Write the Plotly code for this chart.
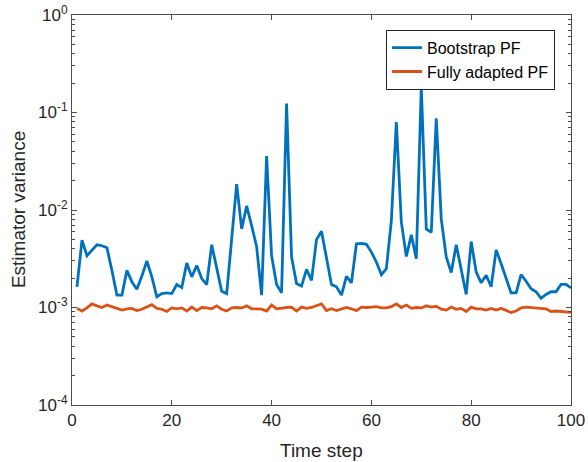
import plotly.graph_objects as go

time_steps = list(range(1, 101))

bootstrap_pf = [
    1.63e-3, 4.9e-3, 3.4e-3, 3.9e-3, 4.4e-3, 4.3e-3, 4.1e-3, 2.4e-3, 1.34e-3, 1.34e-3,
    2.4e-3, 1.83e-3, 1.54e-3, 2.1e-3, 3.0e-3, 2.06e-3, 1.29e-3, 1.39e-3, 1.41e-3, 1.39e-3,
    1.72e-3, 1.6e-3, 2.86e-3, 2.06e-3, 2.7e-3, 1.98e-3, 1.72e-3, 4.4e-3, 2.5e-3, 1.47e-3,
    1.39e-3, 5.0e-3, 1.84e-2, 6.4e-3, 1.1e-2, 6.9e-3, 4.2e-3, 1.34e-3, 3.58e-2, 3.4e-3,
    1.72e-3, 1.42e-3, 1.236e-1, 3.3e-3, 1.76e-3, 1.66e-3, 2.46e-3, 1.9e-3, 4.97e-3, 6.06e-3,
    3.16e-3, 1.72e-3, 1.63e-3, 1.34e-3, 2.09e-3, 1.79e-3, 4.5e-3, 4.55e-3, 4.45e-3, 3.7e-3,
    2.93e-3, 2.17e-3, 2.5e-3, 7.8e-3, 7.96e-2, 7.5e-3, 3.34e-3, 5.56e-3, 3.16e-3, 1.83e-1,
    6.4e-3, 5.9e-3, 8.7e-2, 8.1e-3, 3.3e-3, 2.28e-3, 4.4e-3, 2.4e-3, 1.36e-3, 4.75e-3,
    2.31e-3, 1.79e-3, 2.14e-3, 1.63e-3, 3.9e-3, 2.81e-3, 1.98e-3, 1.41e-3, 1.41e-3, 2.17e-3,
    1.86e-3, 1.56e-3, 1.45e-3, 1.24e-3, 1.36e-3, 1.45e-3, 1.45e-3, 1.73e-3, 1.73e-3, 1.59e-3,
]

fully_adapted_pf = [
    0.98e-3, 0.92e-3, 0.99e-3, 1.09e-3, 1.04e-3, 1.0e-3, 1.06e-3, 1.01e-3, 0.98e-3, 0.94e-3,
    0.97e-3, 0.98e-3, 0.93e-3, 0.96e-3, 1.01e-3, 1.07e-3, 0.98e-3, 0.96e-3, 0.91e-3, 0.99e-3,
    0.97e-3, 0.99e-3, 0.92e-3, 1.01e-3, 0.93e-3, 1.0e-3, 0.99e-3, 0.97e-3, 1.04e-3, 0.96e-3,
    0.92e-3, 0.99e-3, 1.0e-3, 0.99e-3, 1.04e-3, 0.97e-3, 0.97e-3, 0.96e-3, 0.92e-3, 1.06e-3,
    0.97e-3, 0.99e-3, 1.0e-3, 1.01e-3, 0.92e-3, 1.01e-3, 0.98e-3, 1.0e-3, 1.05e-3, 1.09e-3,
    0.93e-3, 0.97e-3, 0.93e-3, 0.96e-3, 1.0e-3, 0.97e-3, 0.93e-3, 1.01e-3, 1.0e-3, 1.01e-3,
    1.02e-3, 0.99e-3, 0.99e-3, 1.02e-3, 1.09e-3, 1.0e-3, 1.06e-3, 0.98e-3, 1.0e-3, 0.99e-3,
    1.04e-3, 1.01e-3, 1.03e-3, 0.96e-3, 0.94e-3, 1.01e-3, 0.96e-3, 0.98e-3, 0.91e-3, 1.01e-3,
    0.97e-3, 0.97e-3, 0.94e-3, 0.98e-3, 0.94e-3, 0.98e-3, 0.93e-3, 0.89e-3, 0.92e-3, 0.99e-3,
    1.01e-3, 1.0e-3, 0.99e-3, 0.98e-3, 0.97e-3, 0.91e-3, 0.92e-3, 0.91e-3, 0.90e-3, 0.89e-3,
]

x_ticks = [0, 20, 40, 60, 80, 100]
y_tick_vals = [1e-4, 1e-3, 1e-2, 1e-1, 1e0]
y_tick_text = ["10<sup>-4</sup>", "10<sup>-3</sup>", "10<sup>-2</sup>", "10<sup>-1</sup>", "10<sup>0</sup>"]

FONT = "Liberation Sans, Arial, sans-serif"
TXT = "#262626"
AX = "#4d4d4d"

fig = go.Figure()
fig.add_trace(go.Scatter(x=time_steps, y=bootstrap_pf, mode="lines", name="Bootstrap PF",
                         line=dict(color="#0072BD", width=2.8)))
fig.add_trace(go.Scatter(x=time_steps, y=fully_adapted_pf, mode="lines", name="Fully adapted PF",
                         line=dict(color="#D95319", width=2.8)))

fig.update_layout(
    width=588, height=462,
    margin=dict(l=72, r=17, t=15, b=57),
    plot_bgcolor="white", paper_bgcolor="white",
    font=dict(family=FONT, size=17, color=TXT),
    showlegend=True,
    legend=dict(x=0.968, y=0.962, xanchor="right", yanchor="top",
                bordercolor=TXT, borderwidth=1, bgcolor="white",
                font=dict(family=FONT, size=16, color="black"),
                tracegroupgap=0, itemwidth=30),
    xaxis=dict(range=[0, 100], tickvals=x_ticks, ticks="inside", ticklen=5,
               showline=True, linecolor=AX, linewidth=1, mirror="ticks",
               showgrid=False, zeroline=False, tickcolor=AX, automargin=False,
               tickfont=dict(size=17, color=TXT)),
    yaxis=dict(type="log", range=[-4, 0], tickvals=y_tick_vals, ticktext=y_tick_text,
               ticks="inside", ticklen=5, tickcolor=AX, automargin=False,
               showline=True, linecolor=AX, linewidth=1, mirror="ticks",
               showgrid=False, zeroline=False,
               minor=dict(ticks="inside", ticklen=3, tickcolor=AX, dtick="D1", showgrid=False),
               tickfont=dict(size=17, color=TXT)),
    annotations=[
        dict(text="Time step", xref="paper", yref="paper", x=0.5, y=-0.085,
             xanchor="center", yanchor="top", showarrow=False,
             font=dict(family=FONT, size=19, color=TXT)),
        dict(text="Estimator variance", xref="paper", yref="paper", x=-0.108, y=0.5,
             xanchor="center", yanchor="middle", showarrow=False, textangle=-90,
             font=dict(family=FONT, size=19, color=TXT)),
    ],
)

fig.write_html("out.html", config={"displayModeBar": False},
               post_script="document.body.style.margin='0';document.body.style.overflow='hidden';")
